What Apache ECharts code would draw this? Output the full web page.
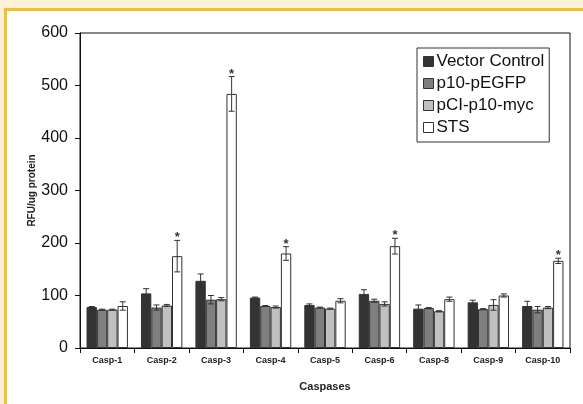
<!DOCTYPE html>
<html>
<head>
<meta charset="utf-8">
<script src="https://cdn.jsdelivr.net/npm/echarts@6/dist/echarts.min.js"></script>
<style>
  html, body { margin: 0; padding: 0; background: #fdf1d5; }
  #chart { width: 583px; height: 404px; }
</style>
</head>
<body>
<div id="chart"></div>
<script>
var categories = ['Casp-1', 'Casp-2', 'Casp-3', 'Casp-4', 'Casp-5', 'Casp-6', 'Casp-8', 'Casp-9', 'Casp-10'];
var seriesNames = ['Vector Control', 'p10-pEGFP', 'pCI-p10-myc', 'STS'];

var vectorControl = [78, 104, 128, 96, 82, 103, 75, 87, 80];
var vectorControlErr = [1, 9, 13, 1, 2, 8, 7, 4, 9];
var p10pEGFP = [73, 77, 92, 80, 77, 90, 76, 74, 73];
var p10pEGFPErr = [1, 5, 8, 1, 1, 3, 1, 1, 6];
var pCIp10myc = [73, 81, 93, 78, 75, 84, 70, 82, 77];
var pCIp10mycErr = [1, 2, 3, 2, 1, 4, 1, 10, 2];
var sts = [80, 175, 484, 180, 90, 194, 93, 100, 166];
var stsErr = [8, 30, 33, 13, 4, 15, 4, 3, 5];
var stsSignificant = [0, 1, 1, 1, 0, 1, 0, 0, 1];

var yTicks = [0, 100, 200, 300, 400, 500, 600];

var values = [vectorControl, p10pEGFP, pCIp10myc, sts];
var errors = [vectorControlErr, p10pEGFPErr, pCIp10mycErr, stsErr];
var colors = ['#333333', '#7f7f7f', '#c0c0c0', '#ffffff'];
var GAP = 0.24;

var chart = echarts.init(document.getElementById('chart'));

var series = [];
for (var k = 0; k < 4; k++) {
    series.push({
        name: seriesNames[k],
        type: 'bar',
        barGap: '0%',
        barCategoryGap: (GAP * 100) + '%',
        itemStyle: { color: colors[k], borderColor: '#333', borderWidth: 1 },
        data: values[k]
    });
}

function errSeries(k) {
    var data = [];
    for (var i = 0; i < categories.length; i++) {
        data.push([i, values[k][i], errors[k][i], k === 3 ? stsSignificant[i] : 0]);
    }
    return {
        type: 'custom',
        name: 'err' + k,
        clip: false,
        z: 10,
        silent: true,
        data: data,
        renderItem: function (params, api) {
            var ci = api.value(0), v = api.value(1), e = api.value(2), sig = api.value(3);
            var c = api.coord([ci, v]);
            var band = api.size([1, 0])[0];
            var bw = band * (1 - GAP) / 4;
            var x = c[0] + (k - 1.5) * bw;
            var yt = api.coord([ci, v + e])[1];
            var yb = api.coord([ci, v - e])[1];
            var cap = 3;
            var st = { stroke: '#333', lineWidth: 1 };
            var children = [
                { type: 'line', shape: { x1: x, y1: yt, x2: x, y2: yb }, style: st },
                { type: 'line', shape: { x1: x - cap, y1: yt, x2: x + cap, y2: yt }, style: st },
                { type: 'line', shape: { x1: x - cap, y1: yb, x2: x + cap, y2: yb }, style: st }
            ];
            if (sig) {
                children.push({
                    type: 'text',
                    style: {
                        x: x, y: yt + 4, text: '*', align: 'center', verticalAlign: 'bottom',
                        font: 'bold 13px "Liberation Sans", Arial, sans-serif', fill: '#333'
                    }
                });
            }
            return { type: 'group', children: children };
        }
    };
}
for (var k2 = 0; k2 < 4; k2++) series.push(errSeries(k2));

var option = {
    backgroundColor: '#fdf1d5',
    animation: false,
    graphic: [
        { type: 'rect', left: 4, top: 8, shape: { width: 583, height: 404 }, style: { fill: '#f2c12e' }, z: -10 },
        { type: 'rect', left: 7, top: 11, shape: { width: 583, height: 404 }, style: { fill: '#ffffff' }, z: -9 }
    ],
    grid: {
        left: 80, top: 33, right: 13, bottom: 56,
        show: true, borderColor: '#111', borderWidth: 1, backgroundColor: '#fff'
    },
    legend: {
        data: seriesNames,
        orient: 'vertical',
        left: 417, top: 48,
        padding: [5, 5, 6, 6],
        itemGap: 5,
        itemWidth: 10, itemHeight: 10,
        icon: 'rect',
        backgroundColor: '#fff',
        borderColor: '#333', borderWidth: 1,
        itemStyle: { borderColor: '#333', borderWidth: 1 },
        textStyle: { fontFamily: '"Liberation Sans", Arial, sans-serif', fontSize: 17, color: '#111', padding: [0, 0, 0, -2] }
    },
    xAxis: {
        type: 'category',
        data: categories,
        name: 'Caspases',
        nameLocation: 'middle',
        nameGap: 33,
        nameTextStyle: { fontFamily: '"Liberation Sans", Arial, sans-serif', fontSize: 11, fontWeight: 'bold', color: '#222' },
        axisLine: { lineStyle: { color: '#111', width: 1 } },
        axisTick: { show: true, length: 5, lineStyle: { color: '#111' } },
        axisLabel: { fontFamily: '"Liberation Sans", Arial, sans-serif', fontSize: 9, fontWeight: 'bold', color: '#222', margin: 8 }
    },
    yAxis: {
        type: 'value',
        min: yTicks[0], max: yTicks[yTicks.length - 1], interval: 100,
        name: 'RFU/ug protein',
        nameLocation: 'middle',
        nameGap: 43,
        nameMoveOverlap: false,
        nameTextStyle: { fontFamily: '"Liberation Sans", Arial, sans-serif', fontSize: 10, fontWeight: 'bold', color: '#222' },
        axisLine: { show: true, lineStyle: { color: '#111', width: 1 } },
        axisTick: { show: true, length: 5, lineStyle: { color: '#111' } },
        splitLine: { show: false },
        axisLabel: { fontFamily: '"Liberation Sans", Arial, sans-serif', fontSize: 16, color: '#111', margin: 12 }
    },
    series: series
};
chart.setOption(option);
</script>
</body>
</html>
